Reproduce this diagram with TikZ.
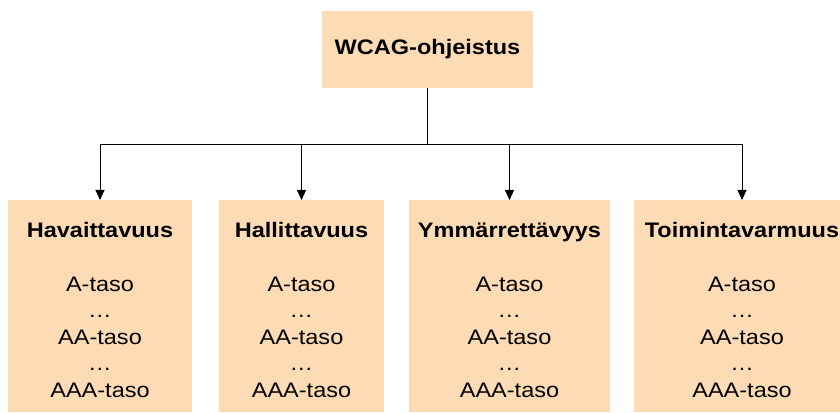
\documentclass[tikz,border=0pt]{standalone}
\usepackage{fontspec}
\setmainfont[FakeStretch=1.12]{Liberation Sans}
\usepackage{tikz}
\usetikzlibrary{arrows.meta,positioning}
\usepackage{xcolor}
\definecolor{wcpeach}{RGB}{253,219,180}
\newcommand{\lvtop}{\rule{0pt}{22pt}}

\begin{document}
\begin{tikzpicture}[
  x=1pt, y=1pt,
  font=\fontsize{21}{26.5}\selectfont,
  topbox/.style={fill=wcpeach, align=center, inner sep=0pt,
    minimum width=211, minimum height=77, font=\fontsize{21}{26.5}\selectfont\bfseries},
  levbox/.style={fill=wcpeach, align=center, inner sep=0pt, anchor=north,
    minimum height=212},
  arr/.style={-{Triangle[length=10pt,width=9pt]}, black, line width=0.9pt}
]
\useasboundingbox (0,0) rectangle (840,412);
\clip (0,0) rectangle (840,412);

\node[topbox] (wcag) at (427.5,362.5) {WCAG-ohjeistus};

\node[levbox, minimum width=184] (hav) at (100,212)
  {\lvtop\textbf{Havaittavuus}\\[27.5pt]A-taso\\…\\AA-taso\\…\\AAA-taso};
\node[levbox, minimum width=165] (hal) at (301.5,212)
  {\lvtop\textbf{Hallittavuus}\\[27.5pt]A-taso\\…\\AA-taso\\…\\AAA-taso};
\node[levbox, minimum width=201] (ymm) at (509.5,212)
  {\lvtop\textbf{Ymmärrettävyys}\\[27.5pt]A-taso\\…\\AA-taso\\…\\AAA-taso};
\node[levbox, minimum width=216] (toi) at (742,212)
  {\lvtop\textbf{Toimintavarmuus}\\[27.5pt]A-taso\\…\\AA-taso\\…\\AAA-taso};

\draw[arr] (wcag.south) -- ++(0,-56) -| (hav.north);
\draw[arr] (wcag.south) -- ++(0,-56) -| (hal.north);
\draw[arr] (wcag.south) -- ++(0,-56) -| (ymm.north);
\draw[arr] (wcag.south) -- ++(0,-56) -| (toi.north);
\end{tikzpicture}
\end{document}
